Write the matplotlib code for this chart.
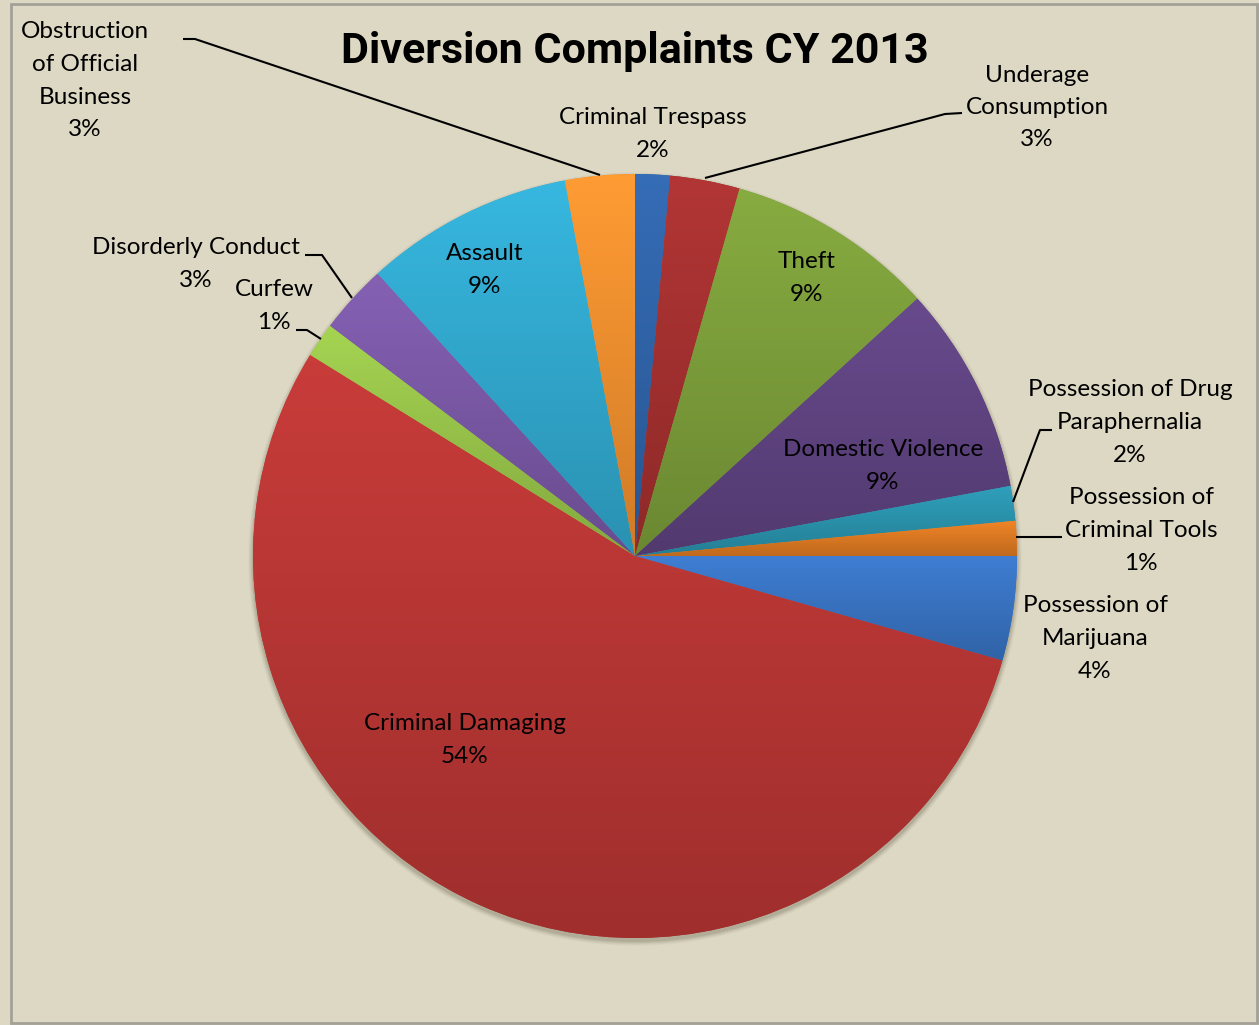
import numpy as np
import matplotlib
matplotlib.use("Agg")
import matplotlib.pyplot as plt
from matplotlib.colors import to_rgb
from matplotlib.patches import Circle, Rectangle

# ---------------- data ----------------
categories = ["Criminal Trespass", "Underage Consumption", "Theft", "Domestic Violence",
              "Possession of Drug Paraphernalia", "Possession of Criminal Tools",
              "Possession of Marijuana", "Criminal Damaging", "Curfew",
              "Disorderly Conduct", "Assault", "Obstruction of Official Business"]
counts = [1, 2, 6, 6, 1, 1, 3, 37, 1, 2, 6, 2]
pct_labels = ["2%", "3%", "9%", "9%", "2%", "1%", "4%", "54%", "1%", "3%", "9%", "3%"]
title = "Diversion Complaints CY 2013"

# display names (line breaks as in the chart)
display_names = ["Criminal Trespass", "Underage\nConsumption", "Theft", "Domestic Violence",
                 "Possession of Drug\nParaphernalia", "Possession of\nCriminal Tools",
                 "Possession of\nMarijuana", "Criminal Damaging", "Curfew",
                 "Disorderly Conduct", "Assault", "Obstruction\nof Official\nBusiness"]

colors = ["#2F63A8", "#A4302F", "#7C9E3A", "#5F4381", "#2A93AD", "#DE7A22",
          "#3873C2", "#B93634", "#98C44A", "#7A58A6", "#31A9CF", "#F28F2E"]

# ---------------- layout ----------------
W, H = 1259, 1025
BG = "#DDD8C3"
def P(x, y):
    return (x, H - y)

# label centres in pixel coords (x, y of first line centre)
label_pos = [(653, 118), (1037, 75), (807, 262), (883, 450), (1130, 390), (1141, 498),
             (1095, 606), (465, 724), (274, 290), (196, 248), (485, 254), (85, 32)]
line_gap = 32.5

leaders = [
    [(183, 39), (195, 39), (600, 175)],       # Obstruction
    [(705, 178), (945, 114), (962, 113)],     # Underage
    [(305, 255), (322, 255), (352, 298)],     # Disorderly
    [(296, 330), (307, 330), (321, 339)],     # Curfew
    [(1052, 430), (1040, 430), (1013, 502)],  # Paraphernalia
    [(1016, 537), (1062, 537)],               # Tools
]

fig = plt.figure(figsize=(W / 100, H / 100), dpi=100, facecolor=BG)
ax = fig.add_axes([0, 0, 1, 1])
ax.set_facecolor(BG)
ax.axis("off")

cx, cy = P(635, 556)
R = 382

# soft shadow under pie
for k, a in zip(range(6, 0, -1), [0.04, 0.05, 0.06, 0.08, 0.10, 0.12]):
    ax.add_patch(Circle((cx, cy - 3), R + k * 0.8, facecolor="#6f6a58", alpha=a,
                        edgecolor="none", zorder=1))

wedges, _ = ax.pie(counts, startangle=90, counterclock=False, center=(cx, cy),
                   radius=R, colors=colors, wedgeprops=dict(linewidth=0, zorder=2),
                   frame=True)

# per-slice vertical gradient (lighter top, darker bottom)
for w, c in zip(wedges, colors):
    base = np.array(to_rgb(c))
    top = np.clip(base * 1.07 + 0.01, 0, 1)
    bot = np.clip(base * 0.86, 0, 1)
    ext = w.get_path().get_extents()
    t = np.linspace(0, 1, 256)[:, None]
    grad = top[None, :] * (1 - t) + bot[None, :] * t
    img = np.repeat(grad[:, None, :], 2, axis=1)
    im = ax.imshow(img, extent=[ext.x0, ext.x1, ext.y0, ext.y1], origin="upper",
                   aspect="auto", zorder=3, interpolation="bilinear")
    im.set_clip_path(w)

ax.set_xlim(0, W)
ax.set_ylim(0, H)
ax.set_aspect("equal")
ax.axis("off")

font = ["Lato", "DejaVu Sans"]
for name, pct, (lx, ly) in zip(display_names, pct_labels, label_pos):
    lines = name.split("\n") + [pct]
    for i, ln in enumerate(lines):
        ax.text(*P(lx, ly + i * line_gap), ln, ha="center", va="center",
                fontsize=17.5, family=font, color="black", zorder=6)

for pts in leaders:
    xs = [p[0] for p in pts]
    ys = [H - p[1] for p in pts]
    ax.plot(xs, ys, color="black", lw=1.5, zorder=5, solid_capstyle="butt")

ax.text(*P(635, 52), title, ha="center", va="center", fontsize=31,
        fontweight="bold", family=["Roboto", "DejaVu Sans"],
        color="black", zorder=6)

# chart border
ax.add_patch(Rectangle((11, H - 1023), 1257 - 11, 1023 - 4, fill=False,
                       edgecolor="#A3A197", lw=2, zorder=7))

fig.savefig("out.png", dpi=100, facecolor=BG)
